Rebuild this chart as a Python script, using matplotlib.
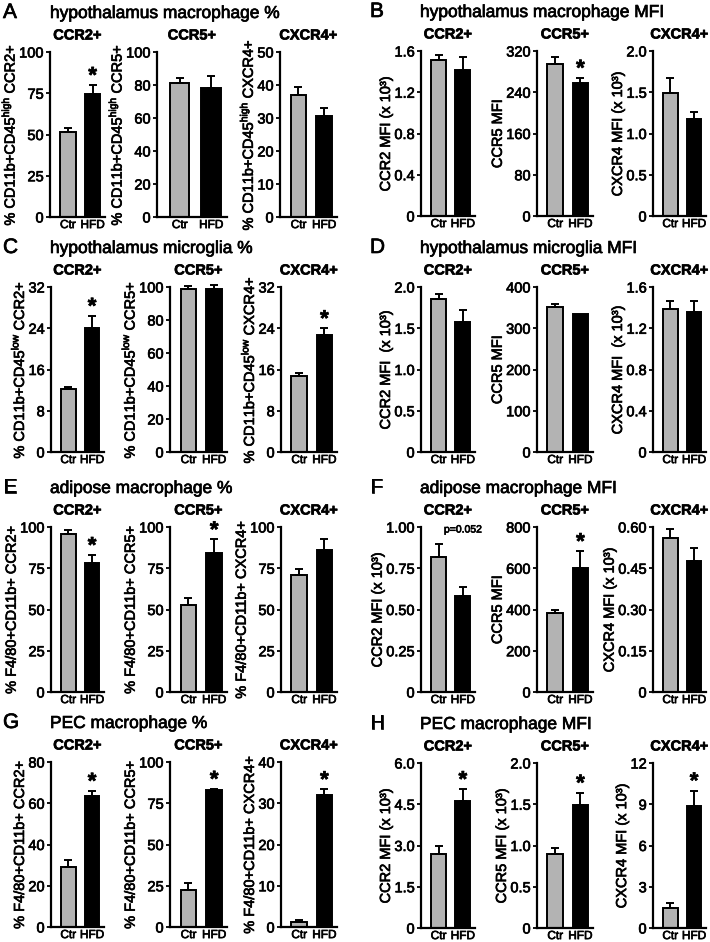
import matplotlib.pyplot as plt
import matplotlib.patheffects as pe
from matplotlib.text import Text

plt.rcParams['font.family'] = ['Liberation Sans', 'DejaVu Sans']

W, H = 710, 942

groups = ['Ctr', 'HFD']
receptors = ['CCR2+', 'CCR5+', 'CXCR4+']

# A: hypothalamus macrophage %
A_ctr = [51.5, 81.0, 37.0]
A_ctr_err = [2.5, 3.0, 2.3]
A_hfd = [74.5, 78.0, 30.5]
A_hfd_err = [5.5, 7.5, 2.5]
A_star = [True, False, False]
A_ticks = [['0', '25', '50', '75', '100'], ['0', '20', '40', '60', '80', '100'],
           ['0', '10', '20', '30', '40', '50']]

# B: hypothalamus macrophage MFI
B_ctr = [1.51, 295, 1.49]
B_ctr_err = [0.05, 14, 0.18]
B_hfd = [1.42, 258, 1.18]
B_hfd_err = [0.12, 10, 0.08]
B_star = [False, True, False]
B_ticks = [['0', '0.4', '0.8', '1.2', '1.6'], ['0', '80', '160', '240', '320'],
           ['0', '0.5', '1.0', '1.5', '2.0']]

# C: hypothalamus microglia %
C_ctr = [12.15, 99.0, 14.7]
C_ctr_err = [0.55, 1.5, 0.6]
C_hfd = [24.0, 99.0, 22.75]
C_hfd_err = [2.4, 2.0, 1.25]
C_star = [True, False, True]
C_ticks = [['0', '8', '16', '24', '32'], ['0', '20', '40', '60', '80', '100'],
           ['0', '8', '16', '24', '32']]

# D: hypothalamus microglia MFI
D_ctr = [1.86, 351, 1.385]
D_ctr_err = [0.05, 7, 0.075]
D_hfd = [1.58, 334, 1.36]
D_hfd_err = [0.14, 0, 0.1]
D_star = [False, False, False]
D_ticks = [['0', '0.5', '1.0', '1.5', '2.0'], ['0', '100', '200', '300', '400'],
           ['0', '0.4', '0.8', '1.2', '1.6']]

# E: adipose macrophage %
E_ctr = [95.5, 52.6, 71.1]
E_ctr_err = [2.5, 4.1, 3.5]
E_hfd = [78.0, 84.3, 85.8]
E_hfd_err = [5.0, 8.2, 7.1]
E_star = [True, True, False]
E_ticks = [['0', '25', '50', '75', '100']] * 3

# F: adipose macrophage MFI
F_ctr = [0.817, 384, 0.561]
F_ctr_err = [0.077, 16, 0.033]
F_hfd = [0.584, 602, 0.475]
F_hfd_err = [0.055, 81, 0.049]
F_star = [False, True, False]
F_ticks = [['0', '0.25', '0.50', '0.75', '1.00'], ['0', '200', '400', '600', '800'],
           ['0', '0.15', '0.30', '0.45', '0.60']]

# G: PEC macrophage %
G_ctr = [29.2, 22.4, 1.2]
G_ctr_err = [3.4, 4.4, 0.5]
G_hfd = [63.5, 83.1, 32.0]
G_hfd_err = [2.5, 0.6, 1.4]
G_star = [True, True, True]
G_ticks = [['0', '20', '40', '60', '80'], ['0', '25', '50', '75', '100'],
           ['0', '10', '20', '30', '40']]

# H: PEC macrophage MFI
H_ctr = [2.69, 0.897, 1.45]
H_ctr_err = [0.3, 0.073, 0.39]
H_hfd = [4.62, 1.49, 8.9]
H_hfd_err = [0.43, 0.15, 1.1]
H_star = [True, True, True]
H_ticks = [['0', '1.5', '3.0', '4.5', '6.0'], ['0', '0.5', '1.0', '1.5', '2.0'],
           ['0', '3', '6', '9', '12']]

lab_high = [r'% CD11b+CD45$^{\mathregular{high}}$ ' + r for r in receptors]
lab_low = [r'% CD11b+CD45$^{\mathregular{low}}$ ' + r for r in receptors]
lab_f480 = ['% F4/80+CD11b+ ' + r for r in receptors]
lab_mfi = ['CCR2 MFI (x 10³)', 'CCR5 MFI', 'CXCR4 MFI (x 10³)']
lab_mfi_d = ['CCR2 MFI  (x 10³)', 'CCR5 MFI', 'CXCR4 MFI  (x 10³)']
lab_mfi_h = ['CCR2 MFI (x 10³)', 'CCR5 MFI (x 10³)', 'CXCR4 MFI (x 10³)']

left_cols = [(51, 104), (170, 227), (281, 337)]
left_cols_a = [(50, 105), (157, 227), (280, 337)]
right_cols = [(421, 475), (537, 593), (653, 706)]

panels = [
    ('A', 'hypothalamus macrophage %', A_ctr, A_ctr_err, A_hfd, A_hfd_err, A_star, A_ticks, lab_high, 52, left_cols_a, 3, 50),
    ('B', 'hypothalamus macrophage MFI', B_ctr, B_ctr_err, B_hfd, B_hfd_err, B_star, B_ticks, lab_mfi, 51, right_cols, 370, 420),
    ('C', 'hypothalamus microglia %', C_ctr, C_ctr_err, C_hfd, C_hfd_err, C_star, C_ticks, lab_low, 287, left_cols, 3, 50),
    ('D', 'hypothalamus microglia MFI', D_ctr, D_ctr_err, D_hfd, D_hfd_err, D_star, D_ticks, lab_mfi_d, 287, right_cols, 370, 420),
    ('E', 'adipose macrophage %', E_ctr, E_ctr_err, E_hfd, E_hfd_err, E_star, E_ticks, lab_f480, 527, left_cols, 3, 50),
    ('F', 'adipose macrophage MFI', F_ctr, F_ctr_err, F_hfd, F_hfd_err, F_star, F_ticks, lab_mfi, 527, right_cols, 370, 420),
    ('G', 'PEC macrophage %', G_ctr, G_ctr_err, G_hfd, G_hfd_err, G_star, G_ticks, lab_f480, 762, left_cols, 3, 50),
    ('H', 'PEC macrophage MFI', H_ctr, H_ctr_err, H_hfd, H_hfd_err, H_star, H_ticks, lab_mfi_h, 763, right_cols, 370, 420),
]

fig = plt.figure(figsize=(W / 100, H / 100), dpi=100)
AX_H = 165

for (letter, heading, ctr, ctr_err, hfd, hfd_err, star, ticks, ylabels,
     top, cols, letter_x, head_x) in panels:
    base = top - 34
    fig.text(letter_x / W, 1 - base / H, letter, fontsize=15, va='baseline')
    fig.text(head_x / W, 1 - base / H, heading, fontsize=12.5, va='baseline')
    for i in range(3):
        l, r = cols[i]
        ax = fig.add_axes([l / W, 1 - (top + AX_H) / H, (r - l) / W, AX_H / H])
        ax.bar([0, 1], [ctr[i], hfd[i]], width=0.62, color=['#b3b3b3', 'black'],
               edgecolor='black', linewidth=1.4, zorder=2)
        for x, m, e in ((0, ctr[i], ctr_err[i]), (1, hfd[i], hfd_err[i])):
            if e > 0:
                eb = ax.errorbar(x, m, yerr=[[0], [e]], fmt='none', ecolor='black',
                                 elinewidth=1.4, capsize=3, capthick=1.4, zorder=3)
                for art in list(eb.lines[1]) + list(eb.lines[2]):
                    art.set_clip_on(False)
        if star[i]:
            ax.annotate('*', (1, hfd[i] + hfd_err[i]), xytext=(0, 2),
                        textcoords='offset points', ha='center', va='baseline',
                        fontsize=16, fontweight='bold', annotation_clip=False)
        if letter == 'F' and i == 0:
            ax.text(1, 0.985, 'p=0.052', ha='center', va='center', fontsize=7.5,
                    transform=ax.get_xaxis_transform())
        vals = [float(t) for t in ticks[i]]
        ax.set_yticks(vals, ticks[i])
        ax.set_ylim(0, vals[-1])
        ax.set_xlim(-0.72, 1.5)
        ax.set_xticks([0, 1], groups)
        ax.spines[['top', 'right']].set_visible(False)
        ax.spines[['left', 'bottom']].set_linewidth(1.6)
        ax.tick_params(axis='y', length=3, width=1.3, pad=1.5, labelsize=10.5)
        ax.tick_params(axis='x', length=0, pad=1.5, labelsize=8.5)
        ax.set_ylabel(ylabels[i], fontsize=10.5, labelpad=1)
        ax.set_title(receptors[i], fontsize=10.5, fontweight='bold', pad=9)

# the source figure's text is a little heavier than plain Liberation Sans
for t in fig.findobj(Text):
    t.set_path_effects([pe.withStroke(linewidth=0.5, foreground='black')])

plt.savefig('out.png', dpi=100)
